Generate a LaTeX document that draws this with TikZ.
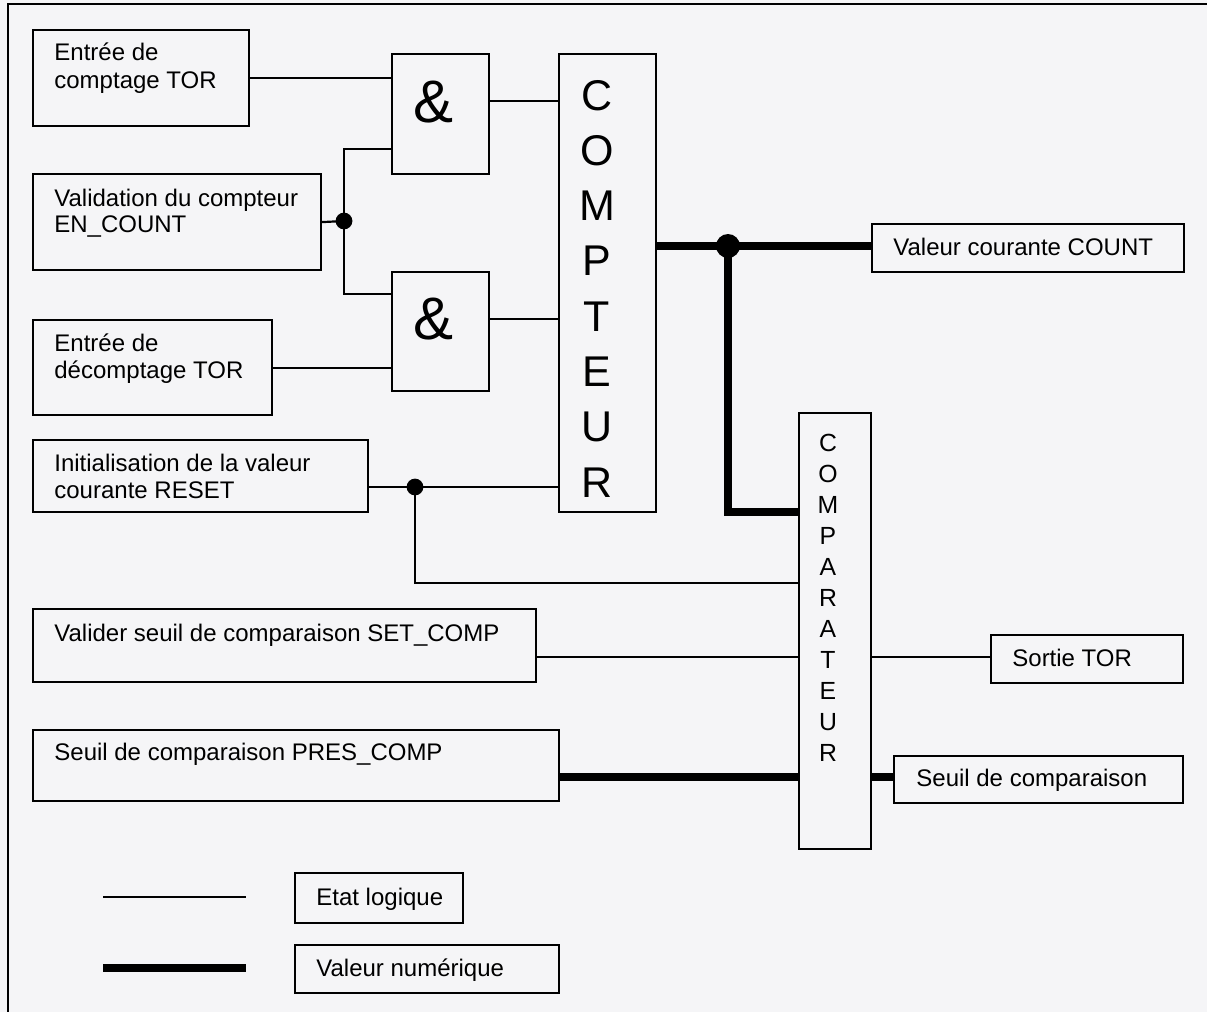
\documentclass[tikz,border=0pt]{standalone}
\usepackage{fontspec}
\setmainfont{Liberation Sans}
\definecolor{paper}{RGB}{245,245,247}
\begin{document}
\begin{tikzpicture}[x=0.5pt,y=-0.5pt,
  box/.style={draw, line width=1.1pt, anchor=north west, inner sep=0pt},
  lbl/.style={anchor=base west, inner sep=0pt, font=\fontsize{12}{13}\selectfont},
  thinw/.style={line width=1.1pt},
  thickw/.style={line width=4pt},
  bigl/.style={anchor=base, inner sep=0pt, font=\fontsize{21.5}{22}\selectfont},
  smalll/.style={anchor=base, inner sep=0pt, font=\fontsize{12.4}{13}\selectfont},
  andl/.style={anchor=base, inner sep=0pt, font=\fontsize{30}{30}\selectfont}]
\fill[paper] (0,0) rectangle (1207,1012);
\useasboundingbox (0,0) rectangle (1207,1012);
% outer frame
\coordinate (fbl) at (8,1012);
\coordinate (ftl) at (8,4);
\coordinate (ftr) at (1207,4);
\draw[line width=1.2pt] (fbl) -- (ftl) -- (ftr);

% boxes
\node[box, minimum width=108pt, minimum height=48pt] (b1) at (32,29) {};
\node[box, minimum width=144pt, minimum height=48pt] (b2) at (32,173) {};
\node[box, minimum width=119.5pt, minimum height=47.5pt] (b3) at (32,319) {};
\node[box, minimum width=167.5pt, minimum height=36pt] (b4) at (32,439) {};
\node[box, minimum width=251.5pt, minimum height=36.5pt] (b5) at (32,608) {};
\node[box, minimum width=263pt, minimum height=35.5pt] (b6) at (32,729) {};
\node[box, minimum width=48.5pt, minimum height=60pt] (g1) at (391,53) {};
\node[box, minimum width=48.5pt, minimum height=59.5pt] (g2) at (391,271) {};
\node[box, minimum width=48.5pt, minimum height=229pt] (cpt) at (558,53) {};
\node[box, minimum width=36pt, minimum height=218pt] (cmp) at (798,412) {};
\node[box, minimum width=156pt, minimum height=24pt] (vc) at (871,223) {};
\node[box, minimum width=96pt, minimum height=24pt] (st) at (990,634) {};
\node[box, minimum width=144.5pt, minimum height=23.5pt] (sc) at (893,755) {};
\node[box, minimum width=84pt, minimum height=25pt] (le) at (294,872) {};
\node[box, minimum width=132pt, minimum height=24pt] (ln) at (294,944) {};

% texts
\node[lbl] (t1a) at (54,61) {Entrée de};
\node[lbl] (t1b) at (54,88) {comptage TOR};
\node[lbl] (t2a) at (54,206) {Validation du compteur};
\node[lbl] (t2b) at (54,232) {EN\_COUNT};
\node[lbl] (t3a) at (54,351) {Entrée de};
\node[lbl] (t3b) at (54,378) {décomptage TOR};
\node[lbl] (t4a) at (54,471) {Initialisation de la valeur};
\node[lbl] (t4b) at (54,498) {courante RESET};
\node[lbl] (t5) at (54,641) {Valider seuil de comparaison SET\_COMP};
\node[lbl] (t6) at (54,760) {Seuil de comparaison PRES\_COMP};
\node[lbl] (tvc) at (893,255) {Valeur courante COUNT};
\node[lbl] (tst) at (1012,666) {Sortie TOR};
\node[lbl] (tsc) at (916,786) {Seuil de comparaison};
\node[lbl] (tle) at (316,905) {Etat logique};
\node[lbl] (tln) at (316,976) {Valeur numérique};

\node[andl] (a1) at (434,122) {\&};
\node[andl] (a2) at (434,339) {\&};

\foreach \l [count=\i from 0] in {C,O,M,P,T,E,U,R}
  \node[bigl] (cl\i) at (597,{110+55.3*\i}) {\l};
\foreach \l [count=\i from 0] in {C,O,M,P,A,R,A,T,E,U,R}
  \node[smalll] (ml\i) at (828,{451+31*\i}) {\l};

% coordinates
\coordinate (j1) at (344,221);
\coordinate (j1t) at (344,149);
\coordinate (j1b) at (344,294);
\coordinate (g1o) at (488,101);
\coordinate (g2o) at (488,319);
\coordinate (r0) at (367,487);
\coordinate (j2) at (415,487);
\coordinate (j2b) at (415,583);
\coordinate (s5) at (535,657);
\coordinate (s6) at (558,777);
\coordinate (c0) at (655,246);
\coordinate (j3) at (728,246);
\coordinate (j3b) at (728,512);
\coordinate (lt1) at (103,897);
\coordinate (lt2) at (246,897);
\coordinate (lk1) at (103,968);
\coordinate (lk2) at (246,968);

% thin connectors
\draw[thinw] (b1.east) -- (b1.east -| g1.west);
\draw[thinw] (b2.east) -- (j1);
\draw[thinw] (j1t -| g1.west) -- (j1t) -- (j1b) -- (j1b -| g2.west);
\draw[thinw] (b3.east) -- (b3.east -| g2.west);
\draw[thinw] (g1o) -- (g1o -| cpt.west);
\draw[thinw] (g2o) -- (g2o -| cpt.west);
\draw[thinw] (r0) -- (r0 -| cpt.west);
\draw[thinw] (j2) -- (j2b) -- (j2b -| cmp.west);
\draw[thinw] (s5) -- (s5 -| cmp.west);
\draw[thinw] (s5 -| cmp.east) -- (s5 -| st.west);
\fill (j1) circle (4.2pt);
\fill (j2) circle (4.2pt);

% thick connectors
\draw[thickw] (c0) -- (c0 -| vc.west);
\draw[thickw] (j3) -- (j3b) -- (j3b -| cmp.west);
\draw[thickw] (s6) -- (s6 -| cmp.west);
\draw[thickw] (s6 -| cmp.east) -- (s6 -| sc.west);
\fill (j3) circle (6pt);

% legend lines
\draw[thinw] (lt1) -- (lt2);
\draw[thickw] (lk1) -- (lk2);
\end{tikzpicture}
\end{document}
